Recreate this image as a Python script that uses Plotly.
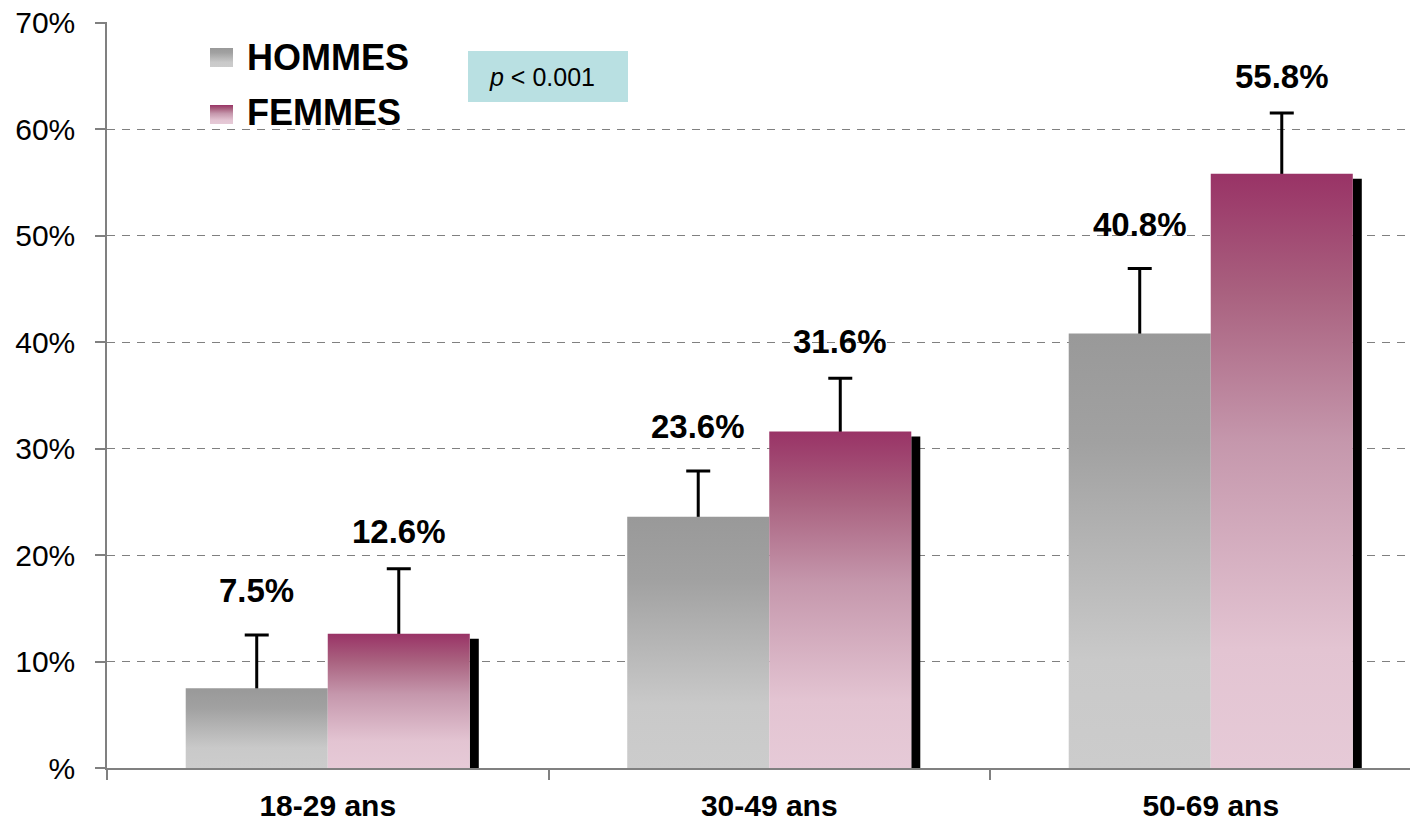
import plotly.graph_objects as go

# ---------------- data ----------------
categories = ["18-29 ans", "30-49 ans", "50-69 ans"]
hommes = [7.5, 23.6, 40.8]
femmes = [12.6, 31.6, 55.8]
hommes_err = [5.0, 4.3, 6.1]
femmes_err = [6.1, 5.0, 5.7]
hommes_labels = ["7.5%", "23.6%", "40.8%"]
femmes_labels = ["12.6%", "31.6%", "55.8%"]
y_tickvals = [0, 10, 20, 30, 40, 50, 60, 70]
y_ticktext = ["%", "10%", "20%", "30%", "40%", "50%", "60%", "70%"]
series_names = ["HOMMES", "FEMMES"]
p_text = "<i>p</i> < 0.001"

# ---------------- style ----------------
OFF = 8                      # page body margin of the html page
PAGE_W, PAGE_H = 1418, 821
W, H = PAGE_W - OFF, PAGE_H - OFF
PLOT_L, PLOT_R, PLOT_T, PLOT_B = 107, 1418, 22, 768   # plot area in page pixels
ML, MR, MT, MB = PLOT_L - OFF, PAGE_W - PLOT_R, PLOT_T - OFF, PAGE_H - PLOT_B
XR = [-0.5, -0.5 + (PLOT_R - PLOT_L) / 441.5]
YR = [0, 70.05]
FONT = "Liberation Sans, Arial, sans-serif"
BARW = 0.3217          # width of one bar in category units
SHADOW_W = 0.0204
SHADOW_DROP = 0.47
ERR_HIDE = 0.4          # lower part of error bar hidden inside the bar
GRAY_SCALE = [[0, "#cccccc"], [0.25, "#c9c9c9"], [0.75, "#a1a1a1"], [1, "#999999"]]
PINK_SCALE = [[0, "#e6cad7"], [0.2, "#e3c4d2"], [0.55, "#c597ac"], [0.8, "#a9617f"], [1, "#993366"]]
AXIS_GRAY = "#808080"
LABEL_SHIFT = {"HOMMES": 44, "FEMMES": 37}

x = list(range(len(categories)))


def px2x(px):
    return XR[0] + (px - PLOT_L) / (PLOT_R - PLOT_L) * (XR[1] - XR[0])


def px2y(py):
    return YR[0] + (PLOT_B - py) / (PLOT_B - PLOT_T) * (YR[1] - YR[0])


def px2paperx(px):
    return (px - PLOT_L) / (PLOT_R - PLOT_L)


def px2papery(py):
    return (PLOT_B - py) / (PLOT_B - PLOT_T)


fig = go.Figure()

# shadow of the FEMMES bars
fig.add_trace(go.Bar(
    x=x, y=[v - SHADOW_DROP for v in femmes], width=SHADOW_W, offset=BARW,
    marker=dict(color="black", line=dict(width=0)), showlegend=False, hoverinfo="skip"))

# transparent bars carrying the error bars
for name, vals, errs, off in [("HOMMES", hommes, hommes_err, -BARW), ("FEMMES", femmes, femmes_err, 0)]:
    fig.add_trace(go.Bar(
        x=x, y=vals, width=BARW, offset=off, name=name,
        marker=dict(color="rgba(0,0,0,0)", line=dict(width=0)),
        error_y=dict(type="data", array=errs, arrayminus=[ERR_HIDE] * len(errs), symmetric=False,
                     color="black", thickness=3, width=12),
        showlegend=False))

# gradient bar bodies
for vals, off, scale in [(hommes, -BARW, GRAY_SCALE), (femmes, 0, PINK_SCALE)]:
    for i, v in zip(x, vals):
        x0, x1 = i + off, i + off + BARW
        fig.add_trace(go.Scatter(
            x=[x0, x1, x1, x0, x0], y=[0, 0, v, v, 0], mode="lines", fill="toself",
            line=dict(width=0, color="rgba(0,0,0,0)"),
            fillgradient=dict(type="vertical", colorscale=scale, start=0, stop=v),
            showlegend=False, hoverinfo="skip"))

# custom legend swatches
for (py0, py1), scale in [((48, 67), GRAY_SCALE), ((105, 124), PINK_SCALE)]:
    x0, x1 = px2x(210), px2x(233)
    y0, y1 = px2y(py1), px2y(py0)
    fig.add_trace(go.Scatter(
        x=[x0, x1, x1, x0, x0], y=[y0, y0, y1, y1, y0], mode="lines", fill="toself",
        line=dict(width=0, color="rgba(0,0,0,0)"),
        fillgradient=dict(type="vertical", colorscale=scale, start=y0, stop=y1),
        showlegend=False, hoverinfo="skip"))

annotations = []
for name, py in zip(series_names, [57, 112]):
    annotations.append(dict(x=px2x(245), y=px2y(py), xref="x", yref="y", text=name,
                            showarrow=False, xanchor="left", yanchor="middle",
                            font=dict(family=FONT, size=36, color="black", weight="bold")))

# value labels
for name, vals, errs, labels, off in [("HOMMES", hommes, hommes_err, hommes_labels, -BARW),
                                      ("FEMMES", femmes, femmes_err, femmes_labels, 0)]:
    for i, v, e, t in zip(x, vals, errs, labels):
        annotations.append(dict(x=i + off + BARW / 2, y=v + e, xref="x", yref="y", text=t,
                                showarrow=False, yanchor="middle", yshift=LABEL_SHIFT[name],
                                font=dict(family=FONT, size=33, color="black", weight="bold")))

# p-value box
annotations.append(dict(x=px2x(542), y=px2y(77), xref="x", yref="y", text=p_text,
                        showarrow=False, font=dict(family=FONT, size=25, color="black")))

shapes = [
    dict(type="rect", xref="paper", yref="paper",
         x0=px2paperx(138), x1=px2paperx(490), y0=px2papery(150), y1=px2papery(30),
         fillcolor="white", line=dict(width=0), layer="between"),
    dict(type="rect", xref="x", yref="y", x0=px2x(468), x1=px2x(628), y0=px2y(102), y1=px2y(51),
         fillcolor="#b9e0e2", line=dict(width=0), layer="between"),
]

fig.update_layout(
    width=W, height=H, margin=dict(l=ML, r=MR, t=MT, b=MB, pad=0, autoexpand=False),
    plot_bgcolor="white", paper_bgcolor="white", barmode="overlay",
    showlegend=False, annotations=annotations, shapes=shapes,
    xaxis=dict(range=XR, tickvals=x, ticktext=categories, ticks="", showgrid=False, zeroline=False,
               showline=True, linecolor=AXIS_GRAY, linewidth=1.5,
               tickfont=dict(family=FONT, size=30, color="black", weight="bold"),
               ticklabelstandoff=10,
               minor=dict(tickvals=[i - 0.5 for i in range(len(categories) + 1)], ticks="outside",
                          ticklen=10, tickcolor=AXIS_GRAY, tickwidth=1.5, showgrid=False)),
    yaxis=dict(range=YR, tickvals=y_tickvals, ticktext=y_ticktext, ticks="outside", ticklen=10,
               tickcolor=AXIS_GRAY, tickwidth=1.5, showline=True, linecolor=AXIS_GRAY, linewidth=1.5,
               showgrid=True, gridcolor=AXIS_GRAY, gridwidth=1, griddash="8px,7px", zeroline=False,
               tickfont=dict(family=FONT, size=30, color="black"), ticklabelstandoff=14,
               ticklabeloverflow="allow"),
)

fig.write_html("out.html")
